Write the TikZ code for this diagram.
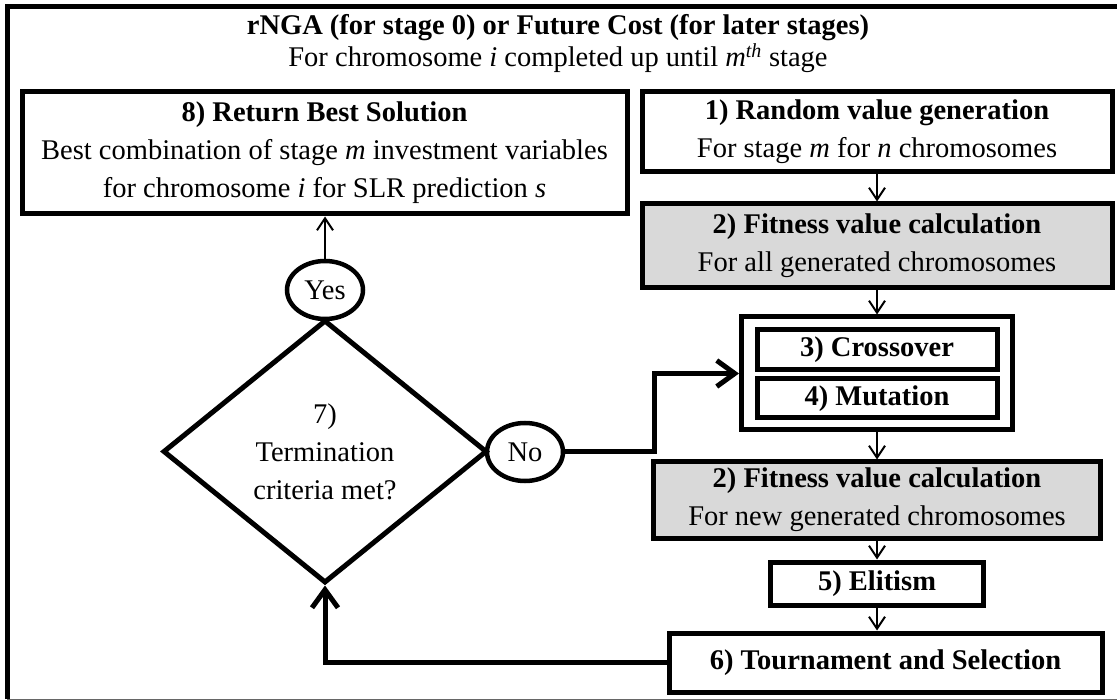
\documentclass[tikz,border=0pt]{standalone}
\usepackage{fontspec}
\setmainfont{Liberation Serif}
\usepackage{tikz}
\usepackage{xcolor}
\usetikzlibrary{arrows.meta,positioning,calc,shapes.geometric}
\definecolor{Ink}{HTML}{000000}
\definecolor{Shade}{HTML}{D9D9D9}

\begin{document}
\begin{tikzpicture}[x=1pt, y=-1pt,
    every node/.style={font=\fontsize{28.5}{38}\selectfont, inner sep=0pt, align=center},
    stagebox/.style={draw=Ink, line width=5pt, rectangle},
    fitbox/.style={stagebox, fill=Shade},
    answer/.style={draw=Ink, line width=4.5pt, ellipse, minimum width=76pt, minimum height=58pt},
    thinarrow/.style={draw=Ink, line width=2pt, -{Straight Barb[length=12pt,width=16pt]}},
    thickarrow/.style={draw=Ink, line width=5pt, -{Straight Barb[length=18pt,width=26pt]}}]
        \useasboundingbox (0,0) rectangle (1117,700);
        % frame, cut off on the right
        \draw[Ink, line width=5pt] (1117,7) -- (7,7) -- (7,699);
        \draw[Ink!60, line width=2pt] (7,700) -- (1117,700);
        % heading
        \node (title) at (558,28) {\textbf{rNGA (for stage 0) or Future Cost (for later stages)}};
        \node (subtitle) at (558,58) {For chromosome \textit{i} completed up until \textit{m}\textsuperscript{\textit{th}} stage};
        % left column
        \node[stagebox, minimum width=605pt, minimum height=122pt] (best) at (324.5,153)
          {\textbf{8) Return Best Solution}\\Best combination of stage \textit{m} investment variables\\for chromosome \textit{i} for SLR prediction \textit{s}};
        \node[answer] (yes) at (325,290) {Yes};
        \node[draw=Ink, line width=5pt, diamond, minimum width=324pt, minimum height=263pt] (check) at (325,451.5)
          {7)\\Termination\\criteria met?};
        \node[answer] (no) at (525,452) {No};
        % right column
        \node[stagebox, minimum width=470pt, minimum height=80pt] (random) at (877,132)
          {\textbf{1) Random value generation}\\For stage \textit{m} for \textit{n} chromosomes};
        \node[fitbox, minimum width=470pt, minimum height=84pt] (fitall) at (877,246)
          {\textbf{2) Fitness value calculation}\\For all generated chromosomes};
        \node[stagebox, minimum width=271pt, minimum height=113pt] (ops) at (877,373.5) {};
        \node[stagebox, minimum width=240pt, minimum height=40pt] (cross) at (877,350) {\textbf{3) Crossover}};
        \node[stagebox, minimum width=240pt, minimum height=39pt] (mutate) at (877,398.5) {\textbf{4) Mutation}};
        \node[fitbox, minimum width=447pt, minimum height=76pt] (fitnew) at (877,500)
          {\textbf{2) Fitness value calculation}\\For new generated chromosomes};
        \node[stagebox, minimum width=213pt, minimum height=43pt] (elite) at (877,583.5) {\textbf{5) Elitism}};
        \node[stagebox, minimum width=433pt, minimum height=59pt] (select) at (885.5,662.5) {\textbf{6) Tournament and Selection}};
        % flow
        \draw[thinarrow] (random) -- (fitall);
        \draw[thinarrow] (fitall) -- (ops);
        \draw[thinarrow] (ops) -- (fitnew);
        \draw[thinarrow] (fitnew) -- (elite);
        \draw[thinarrow] (elite) -- (elite |- select.north);
        \draw[thinarrow] (yes.north) -- (yes.north |- best.south);
        \draw[thickarrow] (no.east) -- ++(89,0) |- (ops.west);
        \draw[thickarrow] (select.west) -| (check.south);
      \end{tikzpicture}
\end{document}
